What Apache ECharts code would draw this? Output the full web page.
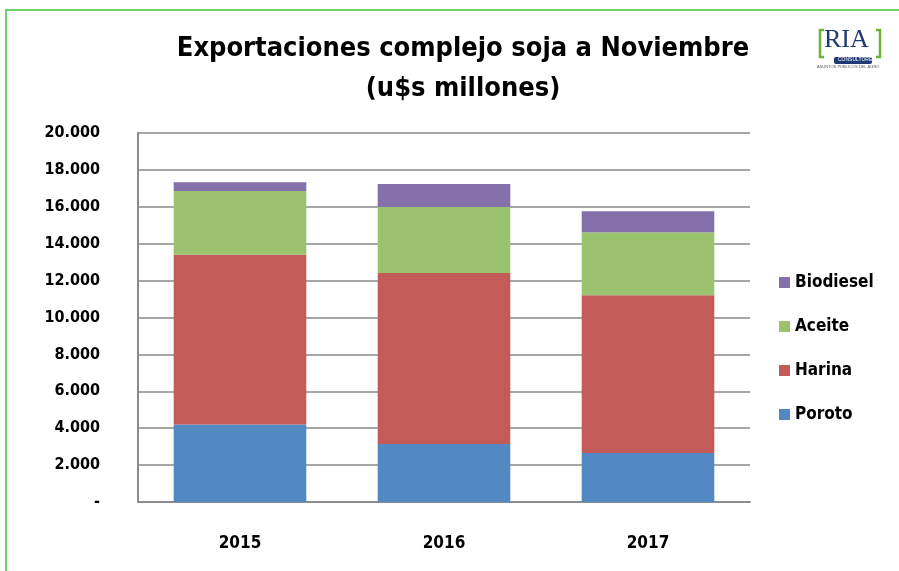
<!DOCTYPE html>
<html>
<head>
<meta charset="utf-8">
<script src="https://cdn.jsdelivr.net/npm/echarts@6/dist/echarts.min.js"></script>
<style>
  html, body { margin: 0; padding: 0; background: #fff; }
  #main { width: 899px; height: 571px; }
</style>
</head>
<body>
<div id="main"></div>
<script>
var years = ['2015', '2016', '2017'];
var poroto = [4200, 3150, 2650];
var harina = [9200, 9260, 8560];
var aceite = [3450, 3580, 3410];
var biodiesel = [480, 1250, 1140];
var yTicks = { min: 0, max: 20000, interval: 2000 };

var myChart = echarts.init(document.getElementById('main'));
var font = '"Liberation Sans Narrow", "DejaVu Sans Condensed", sans-serif';

function fmt(v) {
    if (v === 0) return '-';
    return String(v).replace(/\B(?=(\d{3})+(?!\d))/g, '.');
}

function bar(name, data, color) {
    return {
        name: name,
        type: 'bar',
        stack: 'total',
        barWidth: '65%',
        data: data,
        itemStyle: { color: color },
        emphasis: { disabled: true }
    };
}

option = {
    animation: false,
    title: [
        {
            text: 'Exportaciones complejo soja a Noviembre',
            left: 458, top: 30, textAlign: 'center',
            textStyle: { fontFamily: font, fontSize: 27, fontWeight: 'bold', color: '#000' }
        },
        {
            text: '(u$s millones)',
            left: 458, top: 70, textAlign: 'center',
            textStyle: { fontFamily: font, fontSize: 27, fontWeight: 'bold', color: '#000' }
        }
    ],
    legend: {
        orient: 'vertical',
        left: 774, top: 269,
        itemWidth: 11, itemHeight: 11,
        itemGap: 27,
        icon: 'rect',
        data: ['Biodiesel', 'Aceite', 'Harina', 'Poroto'],
        textStyle: { fontFamily: font, fontSize: 17, fontWeight: 'bold', color: '#000' }
    },
    grid: { left: 138, right: 149, top: 133, bottom: 69 },
    xAxis: {
        type: 'category',
        data: years,
        axisTick: { show: false },
        axisLine: { lineStyle: { color: '#8c8c8c', width: 2 } },
        axisLabel: { margin: 33, fontFamily: font, fontSize: 17, fontWeight: 'bold', color: '#000' }
    },
    yAxis: {
        type: 'value',
        min: yTicks.min, max: yTicks.max, interval: yTicks.interval,
        axisLine: { show: true, lineStyle: { color: '#8c8c8c', width: 2 } },
        axisTick: { show: false },
        splitLine: { lineStyle: { color: '#a6a6a6', width: 2 } },
        axisLabel: { margin: 38, formatter: fmt, fontFamily: font, fontSize: 16, fontWeight: 'bold', color: '#000' }
    },
    series: [
        bar('Poroto', poroto, '#5389c2'),
        bar('Harina', harina, '#c35c59'),
        bar('Aceite', aceite, '#9bc36f'),
        bar('Biodiesel', biodiesel, '#8470ab')
    ],
    graphic: [
        {
            type: 'rect', silent: true,
            shape: { x: 6, y: 10, width: 920, height: 600 },
            style: { fill: 'none', stroke: '#3fc23f', lineWidth: 1.5 }
        },
        // logo
        {
            type: 'text', left: 824, top: 27,
            style: { text: 'RIA', font: '26px "Liberation Serif", serif', fill: '#1f3a73' }
        },
        {
            type: 'polyline', silent: true,
            shape: { points: [[824, 30], [820, 30], [820, 57], [824, 57]] },
            style: { stroke: '#6fb23a', lineWidth: 2.5, fill: 'none' }
        },
        {
            type: 'polyline', silent: true,
            shape: { points: [[876, 30], [880, 30], [880, 57], [876, 57]] },
            style: { stroke: '#6fb23a', lineWidth: 2.5, fill: 'none' }
        },
        {
            type: 'rect', silent: true,
            shape: { x: 834, y: 57, width: 38, height: 7, r: 2 },
            style: { fill: '#1f3a73' }
        },
        {
            type: 'text', left: 838, top: 57,
            style: { text: 'CONSULTORES', font: '5px sans-serif', fill: '#fff' }
        },
        {
            type: 'text', left: 817, top: 65,
            style: { text: 'ASUNTOS PÚBLICOS DEL AGRO', font: '4px sans-serif', fill: '#555' }
        }
    ]
};

myChart.setOption(option);
</script>
</body>
</html>
